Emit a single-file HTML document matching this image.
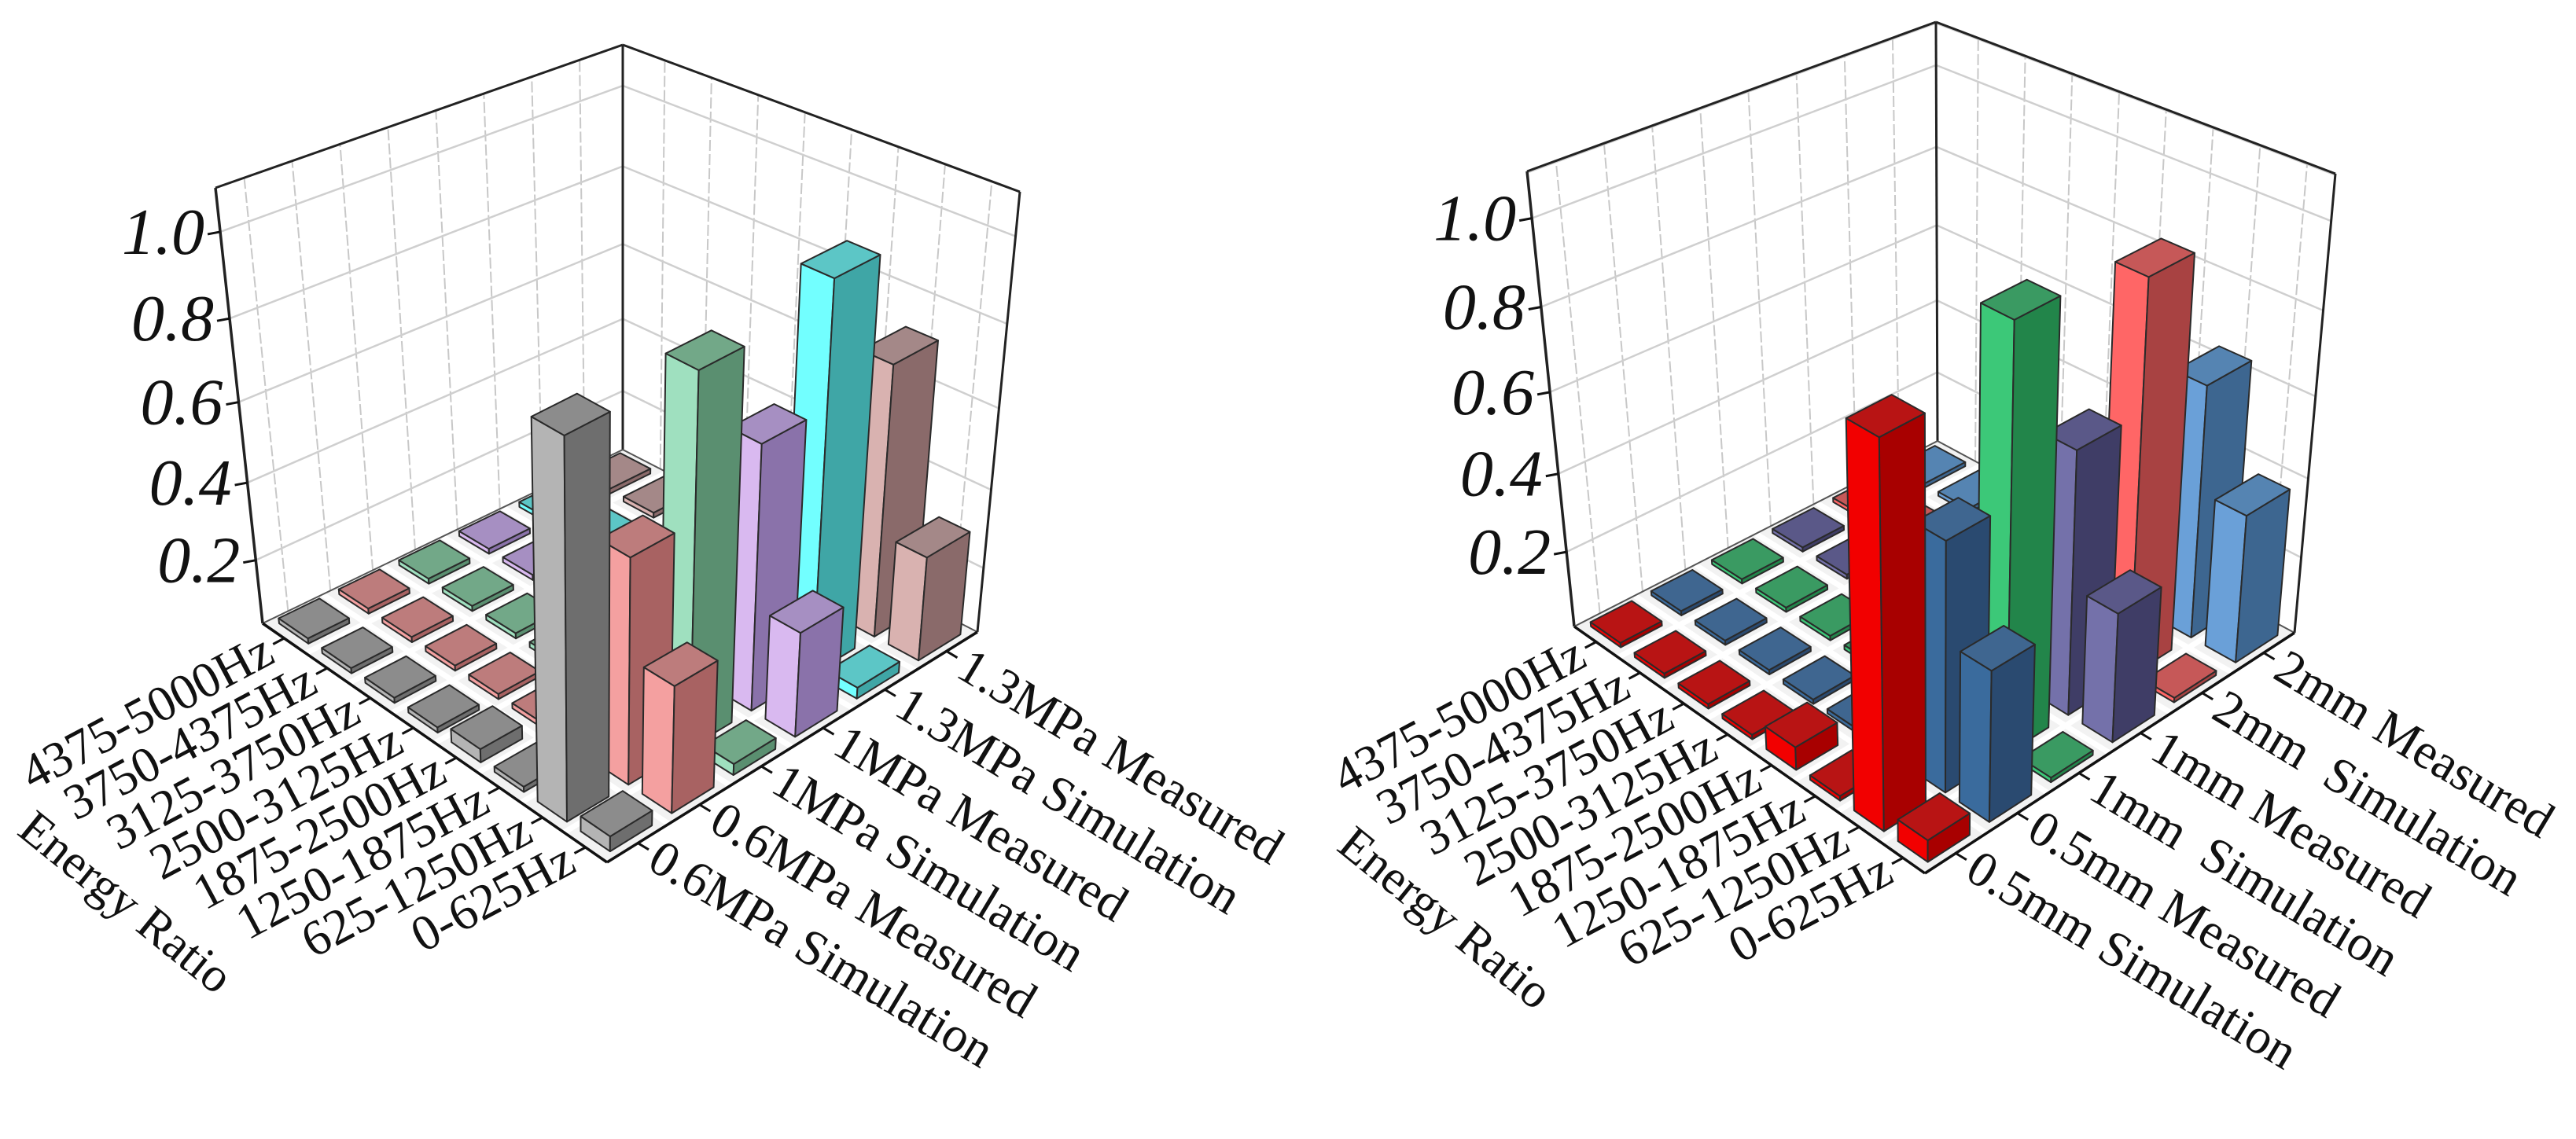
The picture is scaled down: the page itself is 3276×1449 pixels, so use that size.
<!DOCTYPE html>
<html><head><meta charset="utf-8"><style>
html,body{margin:0;padding:0;background:#fff;}
svg{display:block;}
text{font-family:"Liberation Serif",serif;fill:#111;}
</style></head><body>
<svg id="root" width="3276" height="1449" viewBox="0 0 3276 1449" xmlns="http://www.w3.org/2000/svg"></svg>
<script>
// ---- data ----
const freqLabels = ["0-625Hz","625-1250Hz","1250-1875Hz","1875-2500Hz","2500-3125Hz","3125-3750Hz","3750-4375Hz","4375-5000Hz"];
const leftSeries = ["0.6MPa Simulation","0.6MPa Measured","1MPa Simulation","1MPa Measured","1.3MPa Simulation","1.3MPa Measured"];
const rightSeries = ["0.5mm Simulation","0.5mm Measured","1mm  Simulation","1mm Measured","2mm  Simulation","2mm Measured"];
const zTicks = [0.2,0.4,0.6,0.8,1.0];
const zTickLabels = ["0.2","0.4","0.6","0.8","1.0"];
// values per frequency (0-625 ... 4375-5000)
const left06Sim  = [0.07,0.96,0.045,0.066,0.045,0.045,0.045,0.045];
const left06Meas = [0.355,0.60,0.045,0.045,0.045,0.045,0.045,0.045];
const left1Sim   = [0.06,0.95,0.045,0.045,0.045,0.045,0.045,0.045];
const left1Meas  = [0.30,0.70,0.045,0.045,0.045,0.045,0.045,0.045];
const left13Sim  = [0.06,1.00,0.045,0.045,0.045,0.045,0.045,0.045];
const left13Meas = [0.30,0.72,0.045,0.045,0.045,0.045,0.045,0.045];
const right05Sim  = [0.056,0.93,0.012,0.06,0.012,0.012,0.012,0.012];
const right05Meas = [0.38,0.62,0.012,0.012,0.012,0.012,0.012,0.012];
const right1Sim   = [0.012,1.03,0.012,0.012,0.012,0.012,0.012,0.012];
const right1Meas  = [0.33,0.66,0.012,0.012,0.012,0.012,0.012,0.012];
const right2Sim   = [0.012,0.97,0.012,0.012,0.012,0.012,0.012,0.012];
const right2Meas  = [0.38,0.64,0.012,0.012,0.012,0.012,0.012,0.012];
const leftValues = [left06Sim,left06Meas,left1Sim,left1Meas,left13Sim,left13Meas];
const rightValues = [right05Sim,right05Meas,right1Sim,right1Meas,right2Sim,right2Meas];

// ---- geometry / style ----
const panels = [
 {name:"left", series:leftSeries, values:leftValues,
  L:[334,793],F:[772,1097],B:[792,572],R:[1243,804],
  Lt:[274,239],Ft:[776,521],Bt:[792,57],Rt:[1297,244],
  a:-0.026,b:0.8375,c:0.0875, title:[160,1148],
  colors:[["#b4b4b4","#6e6e6e","#8c8c8c"],["#f4a0a0","#a86262","#bd7c7c"],["#9fe0bf","#5a8f70","#72a888"],
          ["#d9b9f0","#8a72aa","#a68fc2"],["#72ffff","#3fa6a6","#5cc6c6"],["#d9b2b0","#8a6a6a","#a48888"]]},
 {name:"right", series:rightSeries, values:rightValues,
  L:[2002,797],F:[2448,1111],B:[2464,561],R:[2918,805],
  Lt:[1942,218],Ft:[2448,500],Bt:[2462,28],Rt:[2970,221],
  a:0,b:0.8,c:0.097, title:[1838,1168],
  colors:[["#f20000","#a80000","#b81414"],["#3a6b9d","#2a4a70","#3f6690"],["#3cc878","#22854a","#3a9a62"],
          ["#7471aa","#3f3d66","#5a5888"],["#ff6666","#a84242","#c65858"],["#6aa0d8","#3d6690","#5584b2"]]}
];

const svg = document.getElementById('root');
const NS = "http://www.w3.org/2000/svg";
function el(tag, parent){ const e=document.createElementNS(NS,tag); parent.appendChild(e); return e; }
function pts(arr){ return arr.map(p=>p[0].toFixed(1)+","+p[1].toFixed(1)).join(" "); }
function P(g,s,t,h){
  const wL=(1-s)*(1-t), wF=(1-s)*t, wB=s*(1-t), wR=s*t;
  const fx=wL*g.L[0]+wF*g.F[0]+wB*g.B[0]+wR*g.R[0];
  const fy=wL*g.L[1]+wF*g.F[1]+wB*g.B[1]+wR*g.R[1];
  const tx=wL*g.Lt[0]+wF*g.Ft[0]+wB*g.Bt[0]+wR*g.Rt[0];
  const ty=wL*g.Lt[1]+wF*g.Ft[1]+wB*g.Bt[1]+wR*g.Rt[1];
  return [fx+(tx-fx)*h, fy+(ty-fy)*h];
}
function hOf(g,v){ return Math.min(1,Math.max(0.004, g.a+g.b*v+g.c*v*v)); }
function line(parent,p,q,stroke,w,dash){
  const l=el('line',parent);
  l.setAttribute('x1',p[0]);l.setAttribute('y1',p[1]);l.setAttribute('x2',q[0]);l.setAttribute('y2',q[1]);
  l.setAttribute('stroke',stroke);l.setAttribute('stroke-width',w);
  if(dash) l.setAttribute('stroke-dasharray',dash);
  return l;
}
const NF=8, NS6=6;
function sC(j){ return (j+0.5)/NS6; }
function tC(k){ return 1-(k+0.5)/NF; }

panels.forEach(g=>{
  const grp=el('g',svg);
  
  

  const grid=el('g',grp);
  
  
  for(let i=0;i<8;i++){
    const f=(i+0.6)/8.5;
    line(grid,P(g,f,0,0),P(g,f,0,1),"#c8c8c8",2,"14,4");
    line(grid,P(g,1,1-f,0),P(g,1,1-f,1),"#c8c8c8",2,"14,4");
  }
  zTicks.concat([1.1]).forEach(z=>{
    const h=hOf(g,z);
    line(grid,P(g,0,0,h),P(g,1,0,h),"#cfcfcf",2.5);
    line(grid,P(g,1,0,h),P(g,1,1,h),"#cfcfcf",2.5);
  });

  const floor=el('polygon',grp);
  floor.setAttribute('points',pts([g.L,g.B,g.R,g.F]));
  floor.setAttribute('fill','#f2f2f2');
  
  
  for(let j=1;j<NS6;j++) line(grp,P(g,j/NS6,0,0),P(g,j/NS6,1,0),"#ffffff",7);
  for(let k=1;k<NF;k++) line(grp,P(g,0,k/NF,0),P(g,1,k/NF,0),"#ffffff",7);

  const edges=el('g',grp);
  
  
  line(edges,g.B,g.Bt,"#222",3);
  line(edges,g.Lt,g.Bt,"#222",3);
  line(edges,g.Bt,g.Rt,"#222",3);
  line(edges,g.L,g.Lt,"#222",3.5);
  line(edges,g.R,g.Rt,"#222",3);
  line(edges,g.L,g.B,"#555",2);
  line(edges,g.B,g.R,"#555",2);

  const bars=[];
  g.values.forEach((arr,j)=>arr.forEach((v,k)=>bars.push({j,k,v})));
  bars.sort((p,q)=>(tC(p.k)+(1-sC(p.j))) - (tC(q.k)+(1-sC(q.j))));
  const ws=0.34/NS6, wt=0.34/NF;
  bars.forEach(bar=>{
    const s=sC(bar.j), t=tC(bar.k), h=hOf(g,bar.v);
    const s0=s-ws,s1=s+ws,t0=t-wt,t1=t+wt;
    const col=g.colors[bar.j];
    const bg=el('g',grp);
    
    
    const faces=[
      [[P(g,s0,t0,0),P(g,s0,t1,0),P(g,s0,t1,h),P(g,s0,t0,h)],col[0]],
      [[P(g,s0,t1,0),P(g,s1,t1,0),P(g,s1,t1,h),P(g,s0,t1,h)],col[1]],
      [[P(g,s0,t0,h),P(g,s1,t0,h),P(g,s1,t1,h),P(g,s0,t1,h)],col[2]]
    ];
    faces.forEach(f=>{
      const pg=el('polygon',bg);
      pg.setAttribute('points',pts(f[0]));
      pg.setAttribute('fill',f[1]);
      pg.setAttribute('stroke','#2a2a2a');
      pg.setAttribute('stroke-width','2');
      pg.setAttribute('stroke-linejoin','round');
    });
  });

  line(edges,g.L,g.F,"#111",3.5);
  line(edges,g.F,g.R,"#111",3.5);

  const zax=el('g',grp);
  
  
  zTicks.forEach((z,i)=>{
    const p=P(g,0,0,hOf(g,z));
    line(zax,p,[p[0]-16,p[1]+3],"#111",3);
    const tx=el('text',zax);
    tx.setAttribute('x',p[0]-20);tx.setAttribute('y',p[1]+28);
    tx.setAttribute('text-anchor','end');
    tx.setAttribute('font-size','84');
    tx.setAttribute('font-style','italic');
    
    
    tx.textContent=zTickLabels[i];
  });

  const fd=[-Math.cos(28*Math.PI/180), Math.sin(28*Math.PI/180)];
  freqLabels.forEach((lab,k)=>{
    const p=P(g,0,tC(k),0);
    line(grp,p,[p[0]+fd[0]*16,p[1]+fd[1]*16],"#111",3);
    const tx=el('text',grp);
    const x=p[0]+fd[0]*22, y=p[1]+fd[1]*22;
    tx.setAttribute('x',x);tx.setAttribute('y',y);
    tx.setAttribute('text-anchor','end');
    tx.setAttribute('dominant-baseline','central');
    tx.setAttribute('font-size','64');
    tx.setAttribute('transform','rotate(-28 '+x+' '+y+')');
    
    
    tx.textContent=lab;
  });

  const sd=[Math.cos(31*Math.PI/180), Math.sin(31*Math.PI/180)];
  g.series.forEach((lab,j)=>{
    const p=P(g,sC(j),1,0);
    line(grp,p,[p[0]+sd[0]*16,p[1]+sd[1]*16],"#111",3);
    const tx=el('text',grp);
    const x=p[0]+sd[0]*24, y=p[1]+sd[1]*24;
    tx.setAttribute('x',x);tx.setAttribute('y',y);
    tx.setAttribute('dominant-baseline','central');
    tx.setAttribute('font-size','64');
    tx.setAttribute('style','white-space:pre');
    tx.setAttribute('transform','rotate(31 '+x+' '+y+')');
    
    
    tx.textContent=lab;
  });

  const tt=el('text',grp);
  tt.setAttribute('x',g.title[0]);tt.setAttribute('y',g.title[1]);
  tt.setAttribute('text-anchor','middle');
  tt.setAttribute('dominant-baseline','central');
  tt.setAttribute('font-size','62');
  tt.setAttribute('transform','rotate(39 '+g.title[0]+' '+g.title[1]+')');
  
  
  tt.textContent="Energy Ratio";
});
</script>
</body></html>
